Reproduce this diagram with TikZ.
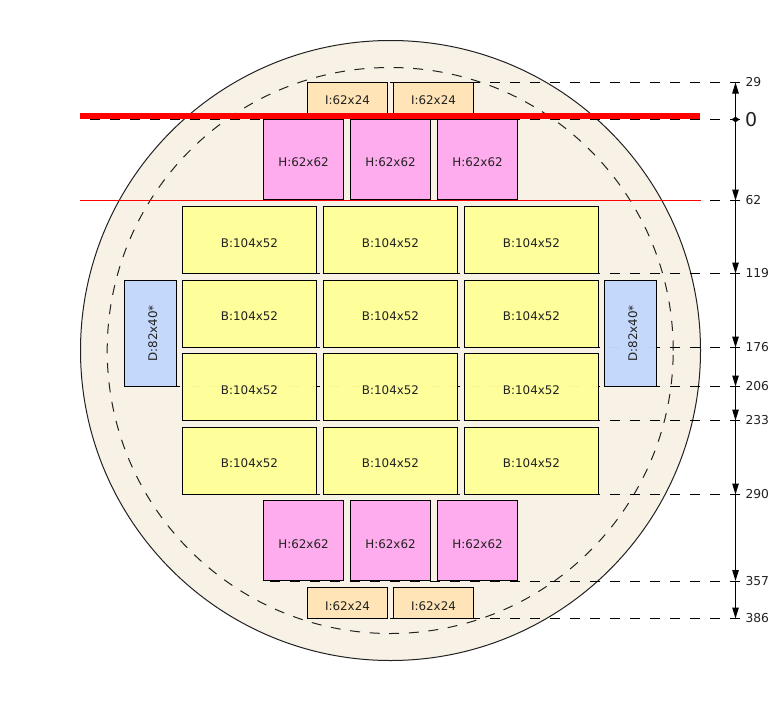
\documentclass[tikz,border=0pt]{standalone}
\usepackage{fontspec}
\setmainfont{DejaVu Sans}
\usetikzlibrary{arrows.meta}
\definecolor{wafer}{HTML}{F8F1E6}
\definecolor{ibox}{HTML}{FFE4B5}
\definecolor{hbox}{HTML}{FFAAEE}
\definecolor{bbox}{HTML}{FFFF99}
\definecolor{dbox}{HTML}{C2D8FC}
\definecolor{ink}{HTML}{222222}
\tikzset{
  die/.style={draw=black,line width=1pt,fill opacity=0.965,text opacity=1,outer sep=0pt,inner sep=0pt,font=\fontsize{11.9}{14}\selectfont,text=ink,text height=13pt,text depth=0pt},
  lower/.style={text height=15pt},
  idie/.style={die,fill=ibox,minimum width=80pt,minimum height=31pt},
  hdie/.style={die,fill=hbox,minimum width=80pt,minimum height=80pt},
  bdie/.style={die,fill=bbox,minimum width=134pt,minimum height=67pt},
  ddie/.style={die,fill=dbox,rotate=90,minimum width=106pt,minimum height=52pt},
  level/.style={draw=black,line width=1pt,dash pattern=on 10pt off 10pt},
  span/.style={draw=black,line width=1pt,-{Triangle[length=11pt,width=6.5pt]}},
  lab/.style={anchor=west,inner sep=0pt,font=\fontsize{12.3}{14}\selectfont,text=ink},
  redline/.style={draw=red}
}
\begin{document}
\begin{tikzpicture}[x=1pt,y=-1pt]
\useasboundingbox (0,0) rectangle (781,701);
% wafer
\node[circle,draw=ink,line width=1pt,fill=wafer,minimum size=620pt,inner sep=0pt,outer sep=0pt] (wafer) at (390.5,350.5) {};
\node[circle,draw=ink,line width=1pt,dash pattern=on 10pt off 9.6pt,minimum size=566pt,inner sep=0pt,outer sep=0pt] (edge) at (390.2,350.5) {};
% named ends of the level lines
\foreach \n/\xs/\yy in {a/307/82.5,b/90/119.5,c/90/200.5,d/182/273.5,e/182/347.5,f/124/386.5,g/182/420.5,h/182/494.5,i/263/581,j/307/618.5}{
  \coordinate (s\n) at (\xs,\yy);
  \coordinate (e\n) at (740,\yy);
  \coordinate (v\n) at (735.5,\yy);
  \draw[level] (e\n) -- (s\n);
}
% dies
\node[idie] (i1) at (347.5,98) {I:62x24};
\node[idie] (i2) at (433.5,98) {I:62x24};
\node[hdie] (h1) at (303.5,159.5) {H:62x62};
\node[hdie] (h2) at (390.5,159.5) {H:62x62};
\node[hdie] (h3) at (477.5,159.5) {H:62x62};
\foreach \r/\yy/\st in {1/239.8/lower,2/314/die,3/387/lower,4/460.8/die}{
  \node[bdie,\st] (b\r a) at (249.5,\yy) {B:104x52};
  \node[bdie,\st] (b\r b) at (390.5,\yy) {B:104x52};
  \node[bdie,\st] (b\r c) at (531.5,\yy) {B:104x52};
}
\node[ddie] (d1) at (150.5,333.4) {D:82x40*};
\node[ddie] (d2) at (630.5,333.4) {D:82x40*};
\node[hdie,lower] (h4) at (303.5,540.5) {H:62x62};
\node[hdie,lower] (h5) at (390.5,540.5) {H:62x62};
\node[hdie,lower] (h6) at (477.5,540.5) {H:62x62};
\node[idie,lower] (i3) at (347.5,602.5) {I:62x24};
\node[idie,lower] (i4) at (433.5,602.5) {I:62x24};
% red lines
\coordinate (r1a) at (80,116);
\coordinate (r1b) at (700,116);
\coordinate (r2a) at (80,200.5);
\coordinate (r2b) at (701,200.5);
\draw[redline,line width=6.4pt] (r1a) -- (r1b);
\draw[redline,line width=1pt] (r2a) -- (r2b);
% dimension line
\draw[span] (vb) -- (va);
\draw[span] (vb) -- (vc);
\draw[span] (vc) -- (vd);
\draw[span] (vd) -- (ve);
\draw[span] (ve) -- (vf);
\draw[span] (vf) -- (vg);
\draw[span] (vg) -- (vh);
\draw[span] (vh) -- (vi);
\draw[span] (vi) -- (vj);
\fill[black] (731.5,119.5) -- (735.5,116.7) -- (739.5,119.5) -- (735.5,122.3) -- cycle;
% labels
\node[lab] (l29) at (745.3,82) {29};
\node[lab,font=\fontsize{19}{21}\selectfont] (l0) at (745,119.5) {0};
\node[lab] (l62) at (745.3,200) {62};
\node[lab] (l119) at (745.3,273) {119};
\node[lab] (l176) at (745.3,347) {176};
\node[lab] (l206) at (745.3,386) {206};
\node[lab] (l233) at (745.3,420) {233};
\node[lab] (l290) at (745.3,494) {290};
\node[lab] (l357) at (745.3,581) {357};
\node[lab] (l386) at (745.3,618) {386};
\end{tikzpicture}
\end{document}
